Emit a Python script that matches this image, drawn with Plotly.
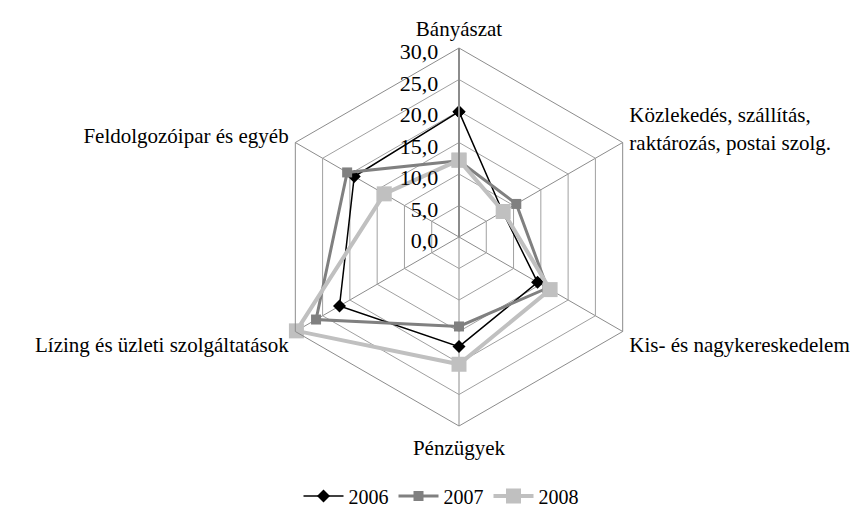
import plotly.graph_objects as go

categories = [
    "Bányászat",
    "Közlekedés, szállítás,<br>raktározás, postai szolg.",
    "Kis- és nagykereskedelem",
    "Pénzügyek",
    "Lízing és üzleti szolgáltatások",
    "Feldolgozóipar és egyéb",
]
years = ["2006", "2007", "2008"]
v2006 = [19.9, 8.0, 14.4, 17.4, 21.9, 19.2]
v2007 = [12.1, 10.5, 16.2, 14.2, 26.2, 20.5]
v2008 = [12.2, 8.1, 16.7, 20.2, 29.8, 13.7]

colors = ["#000000", "#808080", "#c0c0c0"]
widths = [1.5, 3, 4]
symbols = ["diamond", "square", "square"]
sizes = [10, 10, 15]

fig = go.Figure()
for name, vals, c, w, s, sz in zip(years, [v2006, v2007, v2008], colors, widths, symbols, sizes):
    fig.add_trace(go.Scatterpolar(
        r=vals + vals[:1],
        theta=categories + categories[:1],
        mode="lines+markers",
        name=name,
        line=dict(color=c, width=w),
        marker=dict(symbol=s, size=sz, color=c),
    ))

W, H = 866, 526
cx, cy, R = 451, 229, 189
fig.update_layout(
    width=W, height=H,
    margin=dict(l=0, r=0, t=0, b=0),
    paper_bgcolor="white", plot_bgcolor="white",
    separators=", ",
    font=dict(family="Liberation Serif", size=21, color="black"),
    polar=dict(
        domain=dict(x=[(cx - R) / W, (cx + R) / W], y=[1 - (cy + R) / H, 1 - (cy - R) / H]),
        gridshape="linear",
        bgcolor="white",
        angularaxis=dict(
            rotation=90, direction="clockwise",
            showline=True, linecolor="#8c8c8c", linewidth=1,
            gridcolor="#8c8c8c", gridwidth=1,
            ticks="outside", ticklen=3, tickcolor="rgba(0,0,0,0)",
            tickfont=dict(size=21),
        ),
        radialaxis=dict(
            range=[0, 30], dtick=5, tickformat=".1f",
            angle=90, side="counterclockwise",
            showline=True, linecolor="#8c8c8c", linewidth=2,
            gridcolor="#a0a0a0", gridwidth=1,
            ticks="", tickfont=dict(size=22),
        ),
    ),
    showlegend=True,
    legend=dict(orientation="h", x=0.5, xanchor="center", y=1 - 488 / H, yanchor="middle",
                font=dict(size=20), itemwidth=40),
)
fig.write_html("out.html")
